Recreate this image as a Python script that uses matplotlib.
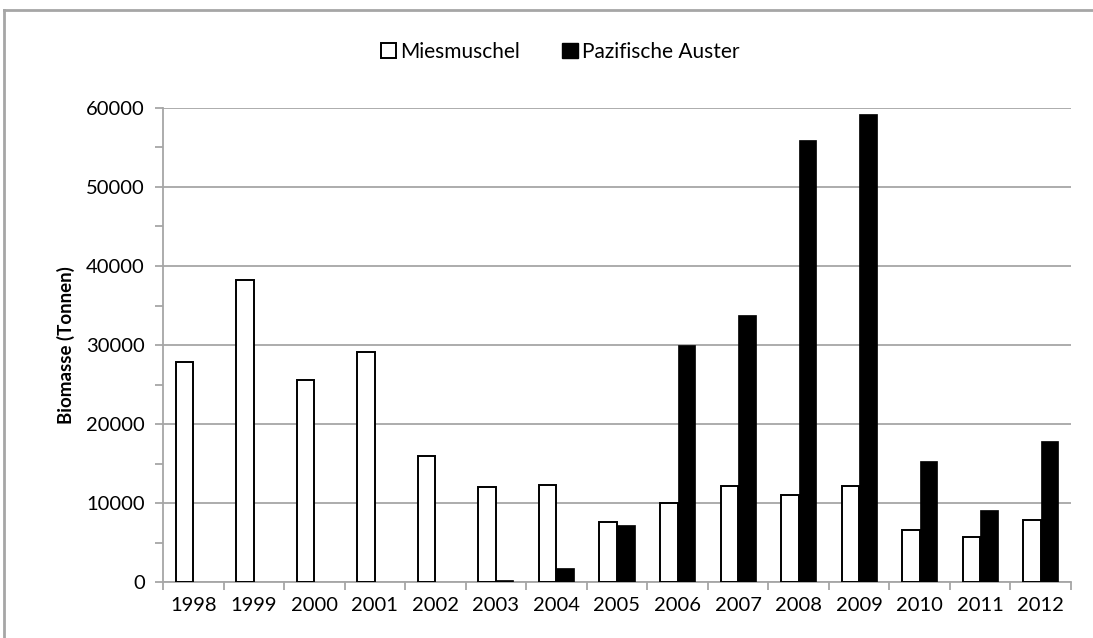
import matplotlib
matplotlib.use("Agg")
import matplotlib.pyplot as plt
import matplotlib.patches as mpatches
from matplotlib.lines import Line2D
import numpy as np

plt.rcParams["font.family"] = ["Lato", "DejaVu Sans"]

years = ["1998", "1999", "2000", "2001", "2002", "2003", "2004", "2005",
         "2006", "2007", "2008", "2009", "2010", "2011", "2012"]
miesmuschel = [27900, 38200, 25600, 29100, 16000, 12000, 12300, 7600,
               10000, 12200, 10950, 12200, 6600, 5700, 7900]
auster = [0, 0, 0, 0, 0, 200, 1800, 7200,
          30000, 33800, 56000, 59300, 15300, 9100, 17800]

GRID = "#a6a6a6"

fig = plt.figure(figsize=(10.93, 6.38), dpi=100)
ax = fig.add_axes([163 / 1093, 56 / 638, (1071 - 163) / 1093, (582 - 108) / 638])

x = np.arange(len(years))
w = 0.29
ax.bar(x - w / 2, miesmuschel, w, color="white", edgecolor="black",
       linewidth=1.4, zorder=3)
ax.bar(x + w / 2, auster, w, color="black", edgecolor="black",
       linewidth=0.5, zorder=3)

ax.set_xlim(-0.5, len(years) - 0.5)
ax.set_ylim(0, 60000)
ax.set_yticks(np.arange(0, 60001, 10000))
ax.set_yticks(np.arange(5000, 60000, 10000), minor=True)
ax.yaxis.grid(True, color=GRID, linewidth=1.3, zorder=0)
ax.set_axisbelow(True)

ax.set_xticks(x)
ax.set_xticklabels(years)
ax.set_xticks(np.arange(-0.5, len(years), 1.0), minor=True)
ax.tick_params(axis="x", which="major", length=0, pad=11, labelsize=14.5)
ax.tick_params(axis="x", which="minor", length=6, width=1.3, color=GRID,
               direction="out")
ax.tick_params(axis="y", which="both", length=6, width=1.3, color=GRID,
               direction="out", labelsize=14.5, pad=7)

for side in ("top", "right"):
    ax.spines[side].set_visible(False)
for side in ("left", "bottom"):
    ax.spines[side].set_color(GRID)
    ax.spines[side].set_linewidth(1.3)

ax.set_ylabel("Biomasse (Tonnen)", fontsize=13.5, fontweight="bold", labelpad=8)

handles = [
    mpatches.Patch(facecolor="white", edgecolor="black", linewidth=1.4,
                   label="Miesmuschel"),
    mpatches.Patch(facecolor="black", edgecolor="black", label="Pazifische Auster"),
]
fig.legend(handles=handles, loc="center", bbox_to_anchor=(560 / 1093, 1 - 52 / 638),
           ncol=2, frameon=False, fontsize=15, handlelength=0.75,
           handleheight=0.75, handletextpad=0.2, columnspacing=2.0)

# outer chart frame, only left and top edges fall inside the canvas
fx, fy = 4 / 1093, 1 - 10 / 638
fig.add_artist(Line2D([fx, fx], [0, fy], transform=fig.transFigure,
                      color=GRID, linewidth=2.0))
fig.add_artist(Line2D([fx, 1], [fy, fy], transform=fig.transFigure,
                      color=GRID, linewidth=2.0))

fig.savefig("out.png", dpi=100)
